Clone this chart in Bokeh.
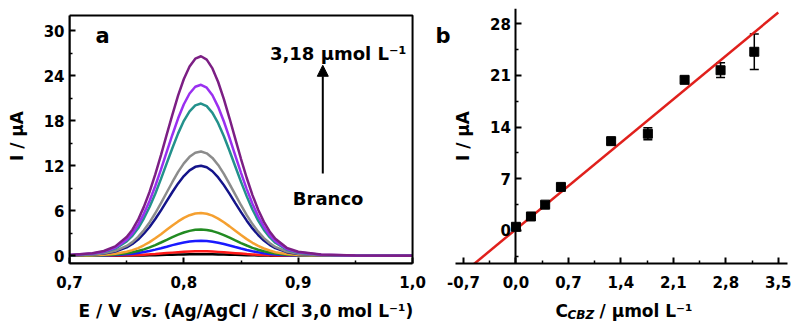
from bokeh.plotting import figure
from bokeh.layouts import row, column
from bokeh.models import (Range1d, LinearAxis, FixedTicker, CustomJSTickFormatter, BoxAnnotation,
                          Label, Arrow, NormalHead, Whisker, TeeHead, ColumnDataSource)
from bokeh.embed import file_html
from bokeh.resources import INLINE

# ---------------- data: panel a (DPV curves) ----------------
potential = [0.70, 0.72, 0.73, 0.74, 0.75, 0.755, 0.76, 0.765, 0.77, 0.775, 0.78, 0.785,
             0.79, 0.795, 0.80, 0.805, 0.81, 0.815, 0.82, 0.825, 0.83, 0.835, 0.84, 0.845,
             0.85, 0.855, 0.86, 0.865, 0.87, 0.875, 0.88, 0.89, 0.90, 0.92, 0.95, 1.00]

i_blank = [0.00, 0.00, 0.00, 0.01, 0.02, 0.03, 0.04, 0.05, 0.06, 0.08, 0.10, 0.12, 0.14, 0.16,
           0.18, 0.19, 0.20, 0.20, 0.20, 0.19, 0.17, 0.16, 0.14, 0.12, 0.10, 0.08, 0.06, 0.05,
           0.03, 0.02, 0.02, 0.01, 0.00, 0.00, 0.00, 0.00]
i_red = [0.00, 0.01, 0.01, 0.03, 0.06, 0.08, 0.11, 0.15, 0.19, 0.24, 0.30, 0.36, 0.42, 0.48,
         0.53, 0.57, 0.59, 0.60, 0.59, 0.56, 0.52, 0.47, 0.41, 0.35, 0.29, 0.23, 0.18, 0.14,
         0.10, 0.07, 0.05, 0.02, 0.01, 0.00, 0.00, 0.00]
i_blue = [0.01, 0.03, 0.05, 0.09, 0.19, 0.26, 0.36, 0.49, 0.64, 0.82, 1.01, 1.21, 1.42, 1.61,
          1.77, 1.90, 1.98, 2.00, 1.97, 1.88, 1.74, 1.57, 1.38, 1.17, 0.97, 0.78, 0.61, 0.46,
          0.34, 0.24, 0.17, 0.08, 0.04, 0.01, 0.00, 0.00]
i_green = [0.01, 0.05, 0.08, 0.16, 0.33, 0.46, 0.63, 0.86, 1.12, 1.43, 1.77, 2.12, 2.48, 2.81,
           3.10, 3.32, 3.46, 3.50, 3.44, 3.29, 3.05, 2.75, 2.41, 2.05, 1.70, 1.37, 1.06, 0.81,
           0.60, 0.43, 0.30, 0.14, 0.07, 0.02, 0.01, 0.00]
i_orange = [0.02, 0.07, 0.14, 0.27, 0.54, 0.75, 1.03, 1.40, 1.82, 2.33, 2.88, 3.46, 4.04, 4.58,
            5.05, 5.41, 5.63, 5.70, 5.60, 5.35, 4.96, 4.47, 3.92, 3.34, 2.76, 2.22, 1.73, 1.32,
            0.97, 0.70, 0.48, 0.23, 0.11, 0.03, 0.01, 0.00]
i_navy = [0.05, 0.16, 0.29, 0.56, 1.13, 1.57, 2.17, 2.94, 3.84, 4.90, 6.06, 7.28, 8.50, 9.65,
          10.63, 11.39, 11.86, 12.00, 11.80, 11.27, 10.45, 9.42, 8.26, 7.03, 5.82, 4.68, 3.65,
          2.77, 2.04, 1.46, 1.02, 0.48, 0.24, 0.07, 0.02, 0.00]
i_gray = [0.06, 0.18, 0.33, 0.65, 1.31, 1.82, 2.52, 3.41, 4.45, 5.67, 7.02, 8.44, 9.84, 11.18,
          12.32, 13.19, 13.73, 13.90, 13.66, 13.05, 12.11, 10.91, 9.56, 8.15, 6.74, 5.42, 4.23,
          3.21, 2.36, 1.70, 1.18, 0.56, 0.28, 0.08, 0.03, 0.00]
i_teal = [0.08, 0.26, 0.49, 0.95, 1.91, 2.66, 3.67, 4.97, 6.50, 8.28, 10.25, 12.32, 14.37, 16.32,
          17.99, 19.26, 20.06, 20.30, 19.95, 19.06, 17.68, 15.94, 13.97, 11.90, 9.85, 7.92,
          6.17, 4.69, 3.45, 2.48, 1.73, 0.81, 0.41, 0.12, 0.04, 0.00]
i_violet = [0.09, 0.30, 0.55, 1.07, 2.14, 2.99, 4.13, 5.59, 7.30, 9.30, 11.51, 13.84, 16.14,
            18.33, 20.20, 21.64, 22.53, 22.80, 22.41, 21.41, 19.86, 17.90, 15.69, 13.36, 11.06,
            8.89, 6.93, 5.27, 3.88, 2.78, 1.94, 0.91, 0.46, 0.14, 0.05, 0.00]
i_purple = [0.11, 0.35, 0.64, 1.25, 2.50, 3.48, 4.81, 6.52, 8.51, 10.85, 13.43, 16.15, 18.83,
            21.39, 23.57, 25.24, 26.28, 26.60, 26.15, 24.98, 23.17, 20.88, 18.30, 15.59, 12.90,
            10.37, 8.09, 6.14, 4.52, 3.25, 2.26, 1.06, 0.53, 0.16, 0.05, 0.00]

curves = [i_blank, i_red, i_blue, i_green, i_orange, i_navy, i_gray, i_teal, i_violet, i_purple]
curve_colors = ["#000000", "#ff1a1a", "#1a1aff", "#228b22", "#f5a030", "#14148a",
                "#8c8c8c", "#23918c", "#9a30f0", "#7c1f84"]

a_x_ticks = [0.7, 0.8, 0.9, 1.0]
a_y_ticks = [0, 6, 12, 18, 24, 30]

# ---------------- data: panel b (calibration) ----------------
conc = [0.0, 0.2, 0.39, 0.6, 1.27, 1.76, 2.25, 2.73, 3.18]
current = [0.5, 1.9, 3.5, 5.9, 12.1, 13.1, 20.4, 21.7, 24.2]
current_err = [0.3, 0.3, 0.4, 0.4, 0.4, 0.8, 0.4, 1.0, 2.4]
fit_slope = 8.39
fit_intercept = 0.16
fit_x = [-0.65, 3.5]

b_x_ticks = [-0.7, 0.0, 0.7, 1.4, 2.1, 2.8, 3.5]
b_y_ticks = [0, 7, 14, 21, 28]

FONT = "DejaVu Sans"
comma_fmt = CustomJSTickFormatter(code="return tick.toFixed(1).replace('.', ',');")


def mids(t):
    return [(t[i] + t[i + 1]) / 2 for i in range(len(t) - 1)]


def style_axis(ax, label_standoff):
    ax.axis_line_width = 2
    ax.axis_line_color = "black"
    ax.major_tick_line_width = 2
    ax.minor_tick_line_width = 1.5
    ax.major_tick_in = 6
    ax.major_tick_out = 0
    ax.minor_tick_in = 3
    ax.minor_tick_out = 0
    ax.major_label_text_font = FONT
    ax.major_label_text_font_style = "bold"
    ax.major_label_text_font_size = "15px"
    ax.major_label_text_color = "black"
    ax.major_label_standoff = label_standoff
    ax.axis_label_text_font = FONT
    ax.axis_label_text_font_style = "bold"
    ax.axis_label_text_font_size = "17px"
    ax.axis_label_text_color = "black"


def text(fig, x, y, s, size, style="bold", xo=0, yo=0):
    fig.add_layout(Label(x=x, y=y, x_offset=xo, y_offset=yo, text=s, text_font=FONT,
                         text_font_style=style, text_font_size=size, text_color="black",
                         text_align="left", text_baseline="alphabetic"))


# ---------------- panel a ----------------
A_X0, A_X1 = 0.7, 1.0
A_Y0, A_Y1 = -1.03, 32.04          # box limits
pa = figure(width=430, height=294, x_range=Range1d(0.7, 1.0017), y_range=Range1d(-1.03, 32.97),
            output_backend="svg", toolbar_location=None,
            min_border_left=69, min_border_right=16, min_border_top=8, min_border_bottom=31)
pa.grid.visible = False
pa.outline_line_color = None
pa.background_fill_color = "white"
pa.border_fill_color = "white"

for vals, col in zip(curves, curve_colors):
    pa.line(potential, vals, color=col, line_width=2.5)

pa.add_layout(BoxAnnotation(left=A_X0, right=A_X1, bottom=A_Y0, top=A_Y1, fill_color=None,
                            fill_alpha=0, line_color="black", line_alpha=1.0, line_width=2))

pa.xaxis.ticker = FixedTicker(ticks=a_x_ticks, minor_ticks=mids(a_x_ticks))
pa.xaxis.formatter = comma_fmt
pa.xaxis.bounds = (A_X0, A_X1)
pa.yaxis.ticker = FixedTicker(ticks=a_y_ticks, minor_ticks=mids(a_y_ticks))
pa.yaxis.bounds = (A_Y0, A_Y1)
style_axis(pa.xaxis[0], 12)
style_axis(pa.yaxis[0], 5)
pa.yaxis.axis_label = "I / μA"
pa.yaxis.axis_label_standoff = 14

text(pa, 0.7227, 29.37, "a", "21px")
text(pa, 0.8753, 26.97, "3,18 μmol L⁻¹", "18px")
text(pa, 0.8953, 7.64, "Branco", "18px")
pa.add_layout(Arrow(x_start=0.9215, y_start=10.97, x_end=0.9215, y_end=25.4, line_width=2,
                    line_color="black",
                    end=NormalHead(size=11, fill_color="black", line_color="black")))

# ---------------- panel b ----------------
pb = figure(width=364, height=294, x_range=Range1d(-1.14, 3.623), y_range=Range1d(-4.47, 30.06),
            output_backend="svg", toolbar_location=None,
            y_axis_location=None, min_border_left=0, min_border_right=7,
            min_border_top=8, min_border_bottom=31)
pb.grid.visible = False
pb.outline_line_color = None
pb.background_fill_color = "white"
pb.border_fill_color = "white"

xb = pb.xaxis[0]
xb.ticker = FixedTicker(ticks=b_x_ticks, minor_ticks=mids(b_x_ticks))
xb.formatter = comma_fmt
xb.bounds = (-0.807, 3.62)
style_axis(xb, 12)

b_minor_y = [-3.5] + mids(b_y_ticks)
yb = LinearAxis(fixed_location=0, ticker=FixedTicker(ticks=b_y_ticks, minor_ticks=b_minor_y),
                axis_label="I / μA")
style_axis(yb, 5)
yb.axis_label_standoff = 14
pb.add_layout(yb, "left")

pb.line(fit_x, [fit_slope * x + fit_intercept for x in fit_x], color="#e0201c", line_width=2.5)

src = ColumnDataSource(dict(x=conc, y=current,
                            upper=[c + e for c, e in zip(current, current_err)],
                            lower=[c - e for c, e in zip(current, current_err)]))
pb.add_layout(Whisker(source=src, base="x", upper="upper", lower="lower", line_width=1.5,
                      line_color="black",
                      upper_head=TeeHead(size=9, line_width=1.5, line_color="black"),
                      lower_head=TeeHead(size=9, line_width=1.5, line_color="black")))
pb.scatter("x", "y", source=src, marker="square", size=9, color="black")

text(pb, -1.073, 26.4, "b", "21px")

# ---------------- strip with the x-axis titles (page pixel coordinates) ----------------
ps = figure(width=794, height=30, x_range=Range1d(0, 794), y_range=Range1d(0, 30),
            output_backend="svg", toolbar_location=None, x_axis_location=None,
            y_axis_location=None, min_border=0)
ps.grid.visible = False
ps.outline_line_color = None
ps.background_fill_color = "white"
ps.border_fill_color = "white"

text(ps, 78, 14, "E / V", "17px")
text(ps, 130, 14, "vs.", "17px", style="bold italic")
text(ps, 163, 14, "(Ag/AgCl / KCl 3,0 mol L⁻¹)", "17px")

text(ps, 555, 14, "C", "17px")
text(ps, 567, 10, "CBZ", "12px", style="bold italic")
text(ps, 599, 14, "/ μmol L⁻¹", "17px")

layout = column(row(pa, pb), ps)
open("out.html", "w").write(file_html(layout, INLINE))
